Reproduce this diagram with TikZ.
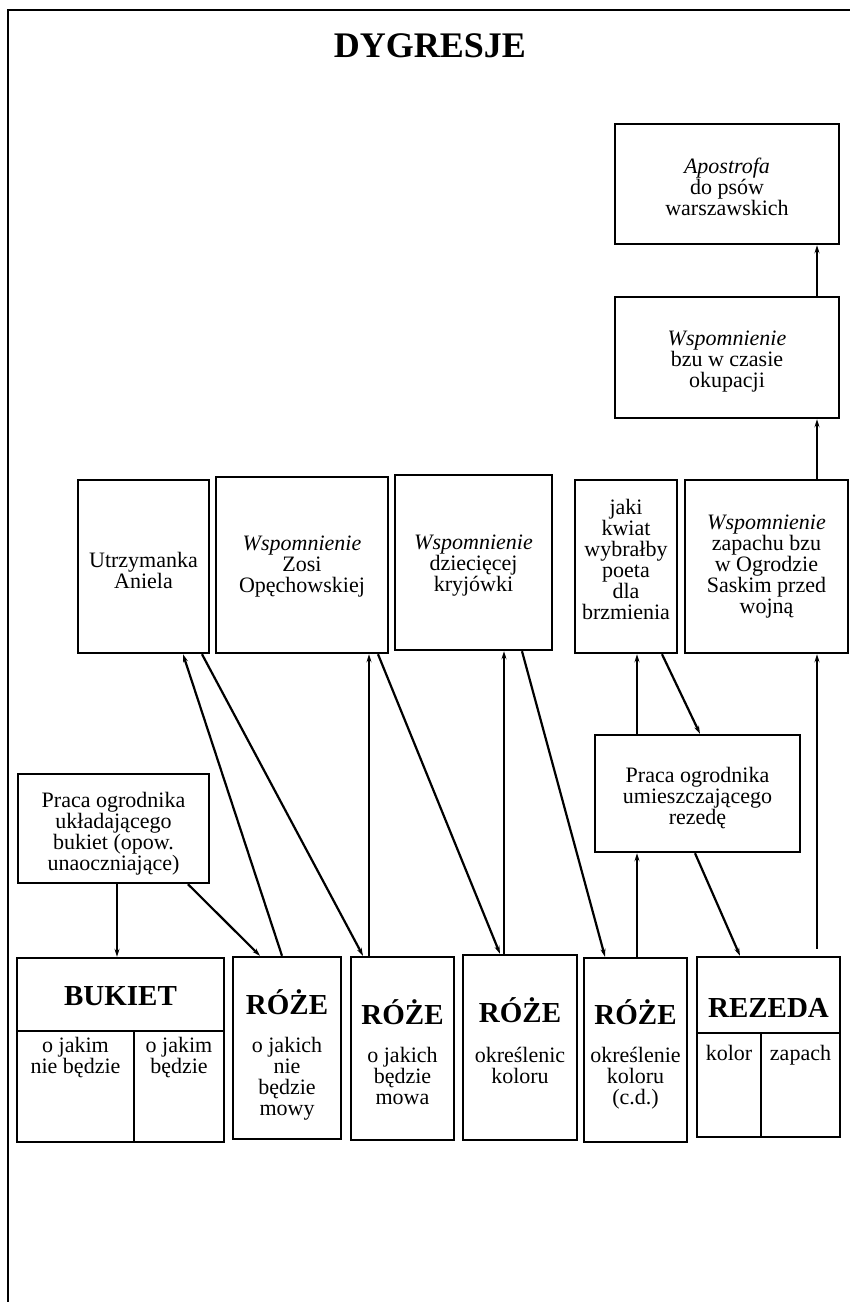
\documentclass[tikz,border=0pt]{standalone}
\usepackage{fontspec}
\setmainfont{Liberation Serif}
\usetikzlibrary{arrows.meta}
\newcommand\bodyfont{\fontsize{22}{21}\selectfont}
\newcommand\headfont{\fontsize{29}{29}\selectfont\bfseries}
\newcommand\titlefont{\fontsize{36}{36}\selectfont\bfseries}
\begin{document}
\begin{tikzpicture}[x=1pt,y=-1pt,
 box/.style={draw, line width=2.4pt, inner sep=0pt},
 txt/.style={inner sep=0pt, align=center, font=\bodyfont},
 head/.style={inner sep=0pt, font=\headfont},
 conn/.style={line width=2.2pt, -{Stealth[length=8pt,width=5pt]}},
 rule/.style={line width=2.4pt}]
\useasboundingbox (0,0) rectangle (850,1302);
\fill[white] (0,0) rectangle (850,1302);
% frame
\draw[rule] (8,1302) -- (8,10) -- (850,10);
\node[inner sep=0pt, font=\titlefont] (title) at (430,46) {DYGRESJE};

% upper boxes
\node[box, minimum width=224pt, minimum height=120pt] (apost) at (727,184) {};
\node[txt] (apostt) at (727,187) {\textit{Apostrofa}\\do psów\\warszawskich};
\node[box, minimum width=224pt, minimum height=121pt] (bzu) at (727,357.5) {};
\node[txt] (bzut) at (727,362) {\textit{Wspomnienie}\\bzu w czasie\\okupacji};
\node[box, minimum width=131pt, minimum height=173pt] (utrz) at (143.5,566.5) {};
\node[txt] (utrzt) at (143.5,570) {Utrzymanka\\Aniela};
\node[box, minimum width=172pt, minimum height=176pt] (zosi) at (302,565) {};
\node[txt] (zosit) at (302,567) {\textit{Wspomnienie}\\Zosi\\Opęchowskiej};
\node[box, minimum width=157pt, minimum height=175pt] (dziec) at (473.5,562.5) {};
\node[txt] (dziect) at (473.5,566) {\textit{Wspomnienie}\\dziecięcej\\kryjówki};
\node[box, minimum width=102pt, minimum height=173pt] (jaki) at (626,566.5) {};
\node[txt] (jakit) at (626,559) {jaki\\kwiat\\wybrałby\\poeta\\dla\\brzmienia};
\node[box, minimum width=163pt, minimum height=173pt] (zapach) at (766.5,566.5) {};
\node[txt] (zapacht) at (766.5,567) {\textit{Wspomnienie}\\zapachu bzu\\w Ogrodzie\\Saskim przed\\wojną};
\node[box, minimum width=205pt, minimum height=117pt] (praca2) at (697.5,793.5) {};
\node[txt] (praca2t) at (697.5,798) {Praca ogrodnika\\umieszczającego\\rezedę};
\node[box, minimum width=191pt, minimum height=109pt] (praca1) at (113.5,828.5) {};
\node[txt] (praca1t) at (113.5,834) {Praca ogrodnika\\układającego\\bukiet (opow.\\unaoczniające)};

% bottom boxes
\node[box, minimum width=207pt, minimum height=184pt] (bukiet) at (120.5,1050) {};
\node[box, minimum width=108pt, minimum height=182pt] (roze1) at (287,1048) {};
\node[box, minimum width=103pt, minimum height=183pt] (roze2) at (402.5,1048.5) {};
\node[box, minimum width=114pt, minimum height=185pt] (roze3) at (520,1047.5) {};
\node[box, minimum width=103pt, minimum height=184pt] (roze4) at (635.5,1050) {};
\node[box, minimum width=143pt, minimum height=180pt] (rezeda) at (768.5,1047) {};

% BUKIET internals
\node[head] (hbuk) at (120.5,996) {BUKIET};
\draw[rule] (bukiet.west |- 0,1031) -- (bukiet.east |- 0,1031);
\draw[rule] (134,1031) -- (bukiet.south -| 134,0);
\node[txt, anchor=north] (buk1) at (75.5,1037) {o jakim\\nie będzie};
\node[txt, anchor=north] (buk2) at (179,1037) {o jakim\\będzie};

% RÓŻE boxes
\node[head] (hr1) at (287,1002) {RÓŻE};
\node[txt, anchor=north] (tr1) at (287,1037) {o jakich\\nie\\będzie\\mowy};
\node[head] (hr2) at (402.5,1012) {RÓŻE};
\node[txt, anchor=north] (tr2) at (402.5,1047) {o jakich\\będzie\\mowa};
\node[head] (hr3) at (520,1010) {RÓŻE};
\node[txt, anchor=north] (tr3) at (520,1047) {określenic\\koloru};
\node[head] (hr4) at (635.5,1012) {RÓŻE};
\node[txt, anchor=north] (tr4) at (635.5,1047) {określenie\\koloru\\(c.d.)};

% REZEDA internals
\node[head] (hrez) at (768.5,1008) {REZEDA};
\draw[rule] (rezeda.west |- 0,1033) -- (rezeda.east |- 0,1033);
\draw[rule] (761,1033) -- (rezeda.south -| 761,0);
\node[txt, anchor=north] (kolor) at (729,1045) {kolor};
\node[txt, anchor=north] (zap) at (800.5,1045) {zapach};

% connectors
\draw[conn] ([xshift=3.5pt]praca1.south) -- ([xshift=-3.5pt]bukiet.north);
\draw[conn] ([xshift=74.5pt]praca1.south) -- ([xshift=-27pt]roze1.north);
\draw[conn] ([xshift=-5pt]roze1.north) -- ([xshift=39.5pt]utrz.south);
\draw[conn] ([xshift=58.5pt]utrz.south) -- ([xshift=-39.5pt]roze2.north);
\draw[conn] ([xshift=-33.5pt]roze2.north) -- ([xshift=67pt]zosi.south);
\draw[conn] ([xshift=76pt]zosi.south) -- ([xshift=-20pt]roze3.north);
\draw[conn] ([xshift=-16pt]roze3.north) -- ([xshift=30.5pt]dziec.south);
\draw[conn] ([xshift=48.5pt]dziec.south) -- ([xshift=-30.5pt]roze4.north);
\draw[conn] ([xshift=1.5pt]roze4.north) -- ([xshift=-60.5pt]praca2.south);
\draw[conn] ([xshift=-60.5pt]praca2.north) -- ([xshift=11pt]jaki.south);
\draw[conn] ([xshift=36pt]jaki.south) -- ([xshift=2.5pt]praca2.north);
\draw[conn] ([xshift=-2.5pt]praca2.south) -- ([xshift=-28.5pt]rezeda.north);
\draw[conn] ([xshift=48.5pt,yshift=7pt]rezeda.north) -- ([xshift=50.5pt]zapach.south);
\draw[conn] ([xshift=50.5pt]zapach.north) -- ([xshift=90pt]bzu.south);
\draw[conn] ([xshift=90pt]bzu.north) -- ([xshift=90pt]apost.south);
\end{tikzpicture}
\end{document}
